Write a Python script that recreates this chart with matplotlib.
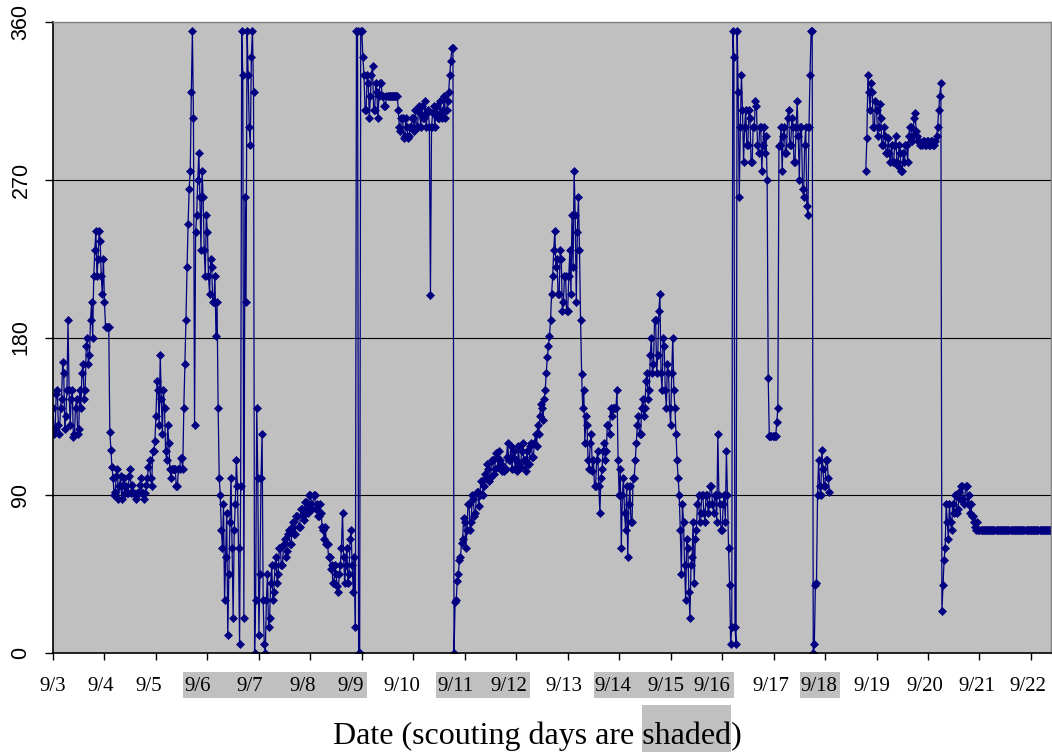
import numpy as np
import matplotlib
matplotlib.use("Agg")
import matplotlib.pyplot as plt
from matplotlib.patches import Rectangle

nan = np.nan

# Half-hourly wind direction readings (degrees), one list per day
sep03 = [140, 125, 128, 148, 150, 130, 125, 140, 145, 166, 160, 128,
         135, 150, 190, 150, 130, 145, 150, 123, 125, 140, 145, 125,
         128, 150, 140, 160, 165, 145, 150, 175, 180, 165, 170, 190,
         200, 180, 215, 230, 241, 215, 225, 241, 235, 215, 205, 225]
sep04 = [200, 186, 186, 186, 186, 126, 116, 106, 100, 90, 92, 101,
         105, 88, 95, 101, 88, 96, 100, 91, 95, 91, 91, 101,
         105, 91, 96, 91, 91, 88, 91, 91, 91, 96, 100, 91,
         91, 88, 91, 96, 100, 106, 110, 100, 95, 115, 115, 121]
sep05 = [135, 155, 150, 130, 170, 145, 125, 150, 140, 115, 110, 130,
         120, 105, 100, 105, 105, 105, 105, 95, 95, 105, 105, 111,
         111, 105, 140, 165, 190, 220, 245, 265, 275, 320, 355, 305,
         130, 240, 250, 270, 285, 260, 230, 275, 260, 230, 215, 250]
sep06 = [240, 215, 205, 225, 220, 200, 200, 215, 181, 200, 140, 100,
         90, 70, 60, 85, 30, 55, 80, 10, 45, 75, 100, 60,
         20, 70, 85, 110, 95, 60, 5, 95, 355, 330, 20, 260,
         200, 355, 330, 300, 290, 340, 355, 320, 0, 30, 140, 100]
sep07 = [10, 45, 100, 125, 30, 5, 0, 30, 45, 15, 20, 40,
         50, 30, 35, 50, 55, 40, 45, 60, 60, 50, 50, 62,
         65, 55, 58, 68, 70, 62, 62, 72, 75, 68, 68, 78,
         78, 72, 72, 82, 82, 78, 76, 86, 86, 82, 80, 90]
sep08 = [90, 85, 82, 90, 90, 82, 85, 78, 78, 85, 80, 72,
         70, 65, 72, 62, 62, 55, 55, 48, 50, 40, 40, 50,
         45, 38, 35, 45, 50, 60, 80, 55, 40, 50, 60, 40,
         45, 65, 70, 50, 35, 55, 15, 355, 355, 0, 0, 355]
sep09 = [355, 340, 330, 310, 310, 330, 325, 305, 318, 330, 335, 310,
         310, 325, 320, 305, 318, 325, 325, 318, 318, 312, 312, 318,
         318, 318, 318, 318, 318, 318, 318, 318, 318, 318, 310, 300,
         298, 305, 305, 294, 295, 305, 300, 294, 295, 300, 300, 305]
sep10 = [305, 298, 310, 300, 300, 312, 308, 300, 312, 305, 305, 315,
         300, 308, 310, 300, 204, 300, 308, 312, 300, 308, 312, 305,
         305, 315, 308, 305, 310, 318, 305, 310, 315, 320, 330, 338,
         345, 345, 0, 29, 30, 41, 45, 53, 55, 63, 65, 77]
sep11 = [75, 60, 70, 85, 85, 70, 75, 90, 88, 78, 80, 92,
         92, 84, 90, 98, 98, 90, 95, 102, 100, 108, 105, 98,
         100, 110, 110, 102, 105, 114, 112, 106, 115, 110, 108, 104,
         105, 104, 105, 112, 120, 110, 110, 118, 105, 112, 115, 105]
sep12 = [110, 104, 118, 108, 106, 115, 120, 110, 110, 104, 115, 108,
         108, 118, 120, 112, 112, 120, 125, 118, 130, 125, 135, 142,
         140, 133, 145, 150, 160, 169, 175, 181, 190, 205, 215, 230,
         241, 220, 225, 205, 205, 230, 225, 195, 200, 215, 215, 195]
sep13 = [195, 215, 230, 205, 250, 220, 275, 250, 200, 240, 260, 230,
         190, 159, 140, 150, 120, 135, 130, 110, 105, 120, 125, 104,
         110, 95, 95, 110, 115, 95, 80, 100, 105, 115, 120, 110,
         115, 130, 130, 125, 140, 135, 140, 140, 140, 140, 150, 110]
sep14 = [90, 105, 60, 90, 100, 80, 70, 95, 55, 85, 95, 75,
         75, 100, 100, 110, 120, 130, 135, 125, 125, 140, 145, 135,
         140, 155, 160, 145, 150, 170, 180, 160, 165, 190, 190, 160,
         170, 195, 205, 160, 150, 180, 175, 150, 140, 165, 160, 140]
sep15 = [130, 160, 180, 150, 140, 125, 110, 100, 90, 70, 45, 85,
         75, 50, 30, 65, 60, 35, 20, 50, 55, 75, 40, 65,
         70, 85, 90, 75, 80, 90, 90, 80, 75, 90, 90, 80,
         85, 95, 95, 85, 80, 90, 90, 75, 125, 90, 85, 70]
sep16 = [70, 85, 90, 75, 115, 90, 60, 39, 5, 15, 355, 340,
         15, 5, 355, 320, 260, 300, 330, 310, 280, 300, 310, 290,
         290, 310, 305, 280, 280, 300, 300, 315, 312, 290, 285, 300,
         300, 275, 290, 300, 285, 295, 270, 157, 124, 124, 124, 124]
sep17 = [124, 124, 124, 132, 140, 289, 290, 300, 275, 295, 300, 285,
         285, 305, 310, 290, 290, 305, 300, 280, 280, 300, 315, 295,
         270, 300, 300, 265, 260, 290, 300, 255, 250, 300, 330, 355,
         355, 0, 5, 39, 40, 90, 110, 95, 90, 116, 105, 95]
sep18 = [95, 110, 110, 100, 92, nan, nan, nan, nan, nan, nan, nan,
         nan, nan, nan, nan, nan, nan, nan, nan, nan, nan, nan, nan,
         nan, nan, nan, nan, nan, nan, nan, nan, nan, nan, nan, nan,
         nan, nan, 275, 294, 330, 320, 310, 325, 320, 300, 300, 315]
sep19 = [310, 295, 300, 313, 305, 290, 290, 300, 295, 285, 285, 294,
         285, 280, 290, 280, 280, 290, 295, 280, 278, 290, 285, 275,
         275, 285, 280, 290, 290, 280, 295, 300, 300, 292, 295, 305,
         308, 298, 295, 292, 292, 290, 290, 292, 292, 290, 290, 292]
sep20 = [292, 290, 290, 292, 292, 290, 290, 292, 295, 300, 310, 318,
         325, 24, 39, 53, 60, 85, 75, 65, 85, 75, 70, 85,
         80, 90, 90, 80, 82, 92, 88, 95, 95, 88, 85, 95,
         95, 85, 90, 80, 85, 78, 78, 75, 72, 70, 75, 70]
sep21 = [70, 70, 70, 70, 70, 70, 70, 70, 70, 70, 70, 70,
         70, 70, 70, 70, 70, 70, 70, 70, 70, 70, 70, 70,
         70, 70, 70, 70, 70, 70, 70, 70, 70, 70, 70, 70,
         70, 70, 70, 70, 70, 70, 70, 70, 70, 70, 70, 70]
sep22 = [70, 70, 70, 70, 70, 70, 70, 70, 70, 70,
         70, 70, 70, 70, 70, 70, 70, 70, 70, 70]

day_labels = ["9/3", "9/4", "9/5", "9/6", "9/7", "9/8", "9/9", "9/10", "9/11",
              "9/12", "9/13", "9/14", "9/15", "9/16", "9/17", "9/18", "9/19",
              "9/20", "9/21", "9/22"]
scouting_groups = [("9/6", "9/9"), ("9/11", "9/12"), ("9/14", "9/16"), ("9/18", "9/18")]
y_ticks = [0, 90, 180, 270, 360]
xlabel_main = "Date (scouting days are shaded)"
xlabel_highlight = "shaded"
readings_per_day = 48

# horizontal nudges of the date labels (pixels), as placed in the original
label_nudge_px = [0, -4, -7, -10, -9.5, -7.5, -11, -11, -9.5, -7.5,
                  -4, -6, -4.5, -10, -3, -6, -5, -3.5, -2.3, -3]

values = np.array(sep03 + sep04 + sep05 + sep06 + sep07 + sep08 + sep09 + sep10 +
                  sep11 + sep12 + sep13 + sep14 + sep15 + sep16 + sep17 + sep18 +
                  sep19 + sep20 + sep21 + sep22, dtype=float)
days = np.arange(len(values)) / readings_per_day

W, H = 1052, 752
PX = 72.0 / 100.0  # points per pixel
fig = plt.figure(figsize=(W / 100, H / 100), dpi=100)
fig.patch.set_facecolor("white")
ax = fig.add_axes([53 / W, 1 - 653 / H, 998 / W, 631 / H])
ax.set_facecolor("#C0C0C0")
ax.set_axisbelow(True)

ax.plot(days, values, color="#000080", lw=0.9, marker="D", ms=4.2,
        mfc="#000080", mec="#000080", mew=0.5)

ax.set_xlim(0, 19.39)
ax.set_ylim(0, 360)
ax.set_yticks(y_ticks)
ax.set_yticklabels([str(v) for v in y_ticks], fontfamily="Liberation Sans",
                   fontsize=15.5, rotation=90, va="center")
ax.set_xticks(range(len(day_labels)))
ax.set_xticklabels([])
ax.tick_params(axis="x", direction="out", length=5, width=1, colors="black")
ax.tick_params(axis="y", direction="out", length=6, width=1, pad=9.5, colors="black")

# date labels drawn as text below each tick
date_texts = []
for i, lab in enumerate(day_labels):
    t = ax.annotate(lab, xy=(i, 0), xycoords=("data", "axes fraction"),
                    xytext=(label_nudge_px[i] * PX, -17.3), textcoords="offset points",
                    ha="center", va="top", fontfamily="Liberation Serif",
                    fontsize=15, annotation_clip=False)
    date_texts.append(t)

ax.grid(axis="y", color="black", lw=0.8)
gls = ax.get_ygridlines()
gls[0].set_visible(False)
gls[-1].set_visible(False)

for s in ["left", "bottom"]:
    ax.spines[s].set_color("black")
    ax.spines[s].set_linewidth(1.2)
for s in ["top", "right"]:
    ax.spines[s].set_color("#808080")
    ax.spines[s].set_linewidth(1.0)

# x label with highlighted word
xl = fig.text(537 / W, 8 / H, xlabel_main, fontfamily="Liberation Serif",
              fontsize=23, ha="center", va="baseline")

fig.canvas.draw()
renderer = fig.canvas.get_renderer()

# shaded boxes behind scouting-day labels
idx = {lab: i for i, lab in enumerate(day_labels)}
for a, b in scouting_groups:
    bb0 = date_texts[idx[a]].get_window_extent(renderer)
    bb1 = date_texts[idx[b]].get_window_extent(renderer)
    x0 = bb0.x0 - 1
    x1 = bb1.x1 + 3
    y0, y1 = H - 698, H - 672
    fig.add_artist(Rectangle((x0 / W, y0 / H), (x1 - x0) / W, (y1 - y0) / H,
                             transform=fig.transFigure, facecolor="#C0C0C0",
                             edgecolor="none", zorder=-1))

# highlight the word "shaded" in the x label
bbx = xl.get_window_extent(renderer)
prefix = xlabel_main[:xlabel_main.index(xlabel_highlight) + len(xlabel_highlight)]
tmp1 = fig.text(0, 0, prefix, fontfamily="Liberation Serif", fontsize=23)
tmp2 = fig.text(0, 0, xlabel_highlight, fontfamily="Liberation Serif", fontsize=23)
w1 = tmp1.get_window_extent(renderer).width
w2 = tmp2.get_window_extent(renderer).width
tmp1.remove()
tmp2.remove()
hx0 = bbx.x0 + w1 - w2
fig.add_artist(Rectangle((hx0 / W, 0), w2 / W, (H - 705) / H,
                         transform=fig.transFigure, facecolor="#C0C0C0",
                         edgecolor="none", zorder=-1))

fig.savefig("out.png", dpi=100)
